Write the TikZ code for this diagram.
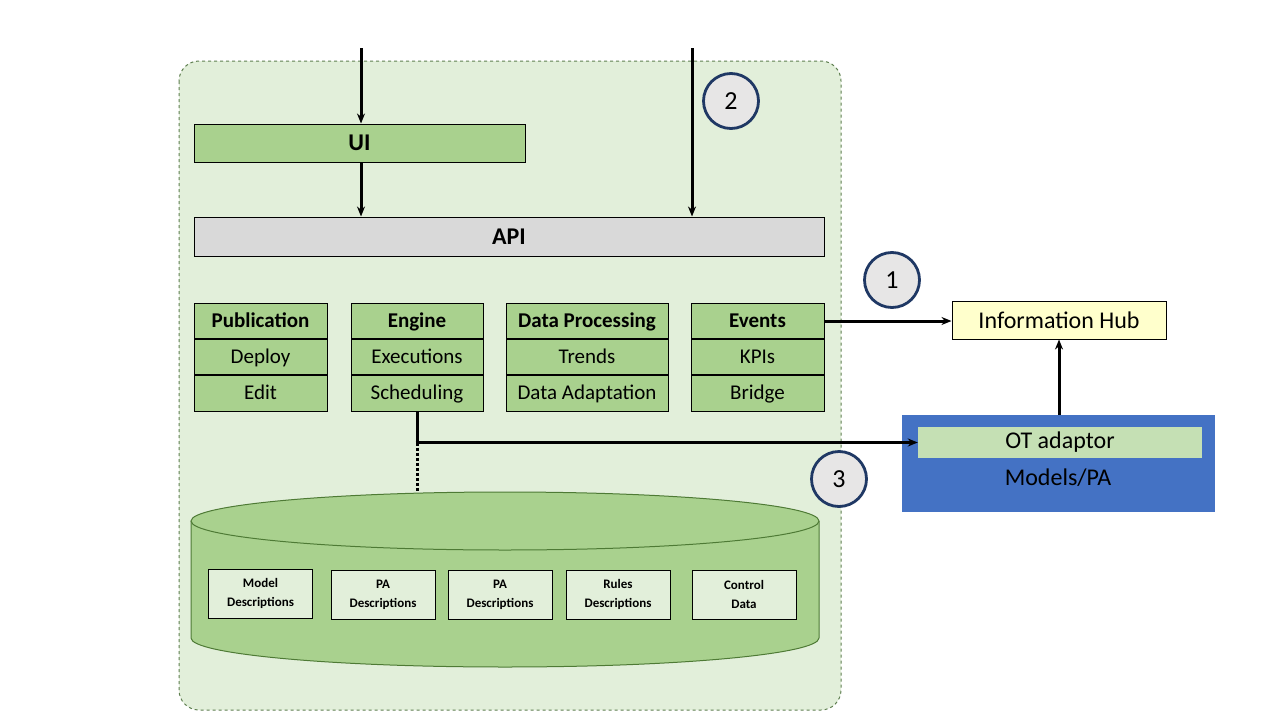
\documentclass[tikz,border=0pt]{standalone}
\usepackage{fontspec}
\setmainfont{Carlito}
\usetikzlibrary{arrows.meta,positioning}
\definecolor{panelgreen}{HTML}{E2EFDA}
\definecolor{panelline}{HTML}{5F7F50}
\definecolor{boxgreen}{HTML}{A9D18E}
\definecolor{apigray}{HTML}{D9D9D9}
\definecolor{badgefill}{HTML}{E7E6E6}
\definecolor{badgeline}{HTML}{1F3864}
\definecolor{hubyellow}{HTML}{FFFFCC}
\definecolor{modelblue}{HTML}{4472C4}
\definecolor{adaptorgreen}{HTML}{C5E0B4}
\definecolor{dbline}{HTML}{4E7A35}
\tikzset{
  bar/.style={draw=black, line width=1pt, font=\bfseries\fontsize{24}{26}\selectfont, inner sep=0pt},
  cell/.style={draw=black, line width=1pt, fill=boxgreen, minimum height=35.3pt, inner sep=0pt,
    text height=15pt, text depth=3pt, font=\fontsize{21}{23}\selectfont},
  headcell/.style={cell, font=\bfseries\fontsize{21}{23}\selectfont},
  badge/.style={circle, draw=badgeline, line width=2.8pt, fill=badgefill, minimum size=55pt, inner sep=0pt,
    font=\fontsize{26}{28}\selectfont},
  store/.style={draw=black, line width=1pt, fill=panelgreen, minimum width=104pt, minimum height=49pt,
    inner sep=0pt, align=center, font=\bfseries\fontsize{13}{19}\selectfont},
  flow/.style={line width=3pt, -{Stealth[length=10pt,width=8pt]}},
  link/.style={line width=3pt},
}
\begin{document}
\begin{tikzpicture}[x=1pt,y=-1pt]
\useasboundingbox[fill=white] (0,0) rectangle (1280,720);

% platform panel
\draw[panelline, dashed, line width=1pt, fill=panelgreen, rounded corners=20pt] (179,61) rectangle (841,710);

% UI and API layers
\node[bar, fill=boxgreen, minimum width=331pt, minimum height=38pt] (ui) at (359.5,143) {UI};
\node[bar, fill=apigray, minimum width=630pt, minimum height=39pt] (api) at (509,236.5) {API};

% component stacks
\node[headcell, minimum width=133pt] (pub1) at (260.5,321) {Publication};
\node[cell, minimum width=133pt, below=0pt of pub1] (pub2) {Deploy};
\node[cell, minimum width=133pt, below=0pt of pub2] (pub3) {Edit};

\node[headcell, minimum width=132pt] (eng1) at (417,321) {Engine};
\node[cell, minimum width=132pt, below=0pt of eng1] (eng2) {Executions};
\node[cell, minimum width=132pt, below=0pt of eng2] (eng3) {Scheduling};

\node[headcell, minimum width=162pt] (dp1) at (587,321) {Data Processing};
\node[cell, minimum width=162pt, below=0pt of dp1] (dp2) {Trends};
\node[cell, minimum width=162pt, below=0pt of dp2] (dp3) {Data Adaptation};

\node[headcell, minimum width=133pt] (ev1) at (757.5,321) {Events};
\node[cell, minimum width=133pt, below=0pt of ev1] (ev2) {KPIs};
\node[cell, minimum width=133pt, below=0pt of ev2] (ev3) {Bridge};

% external systems
\node[draw=black, line width=1pt, fill=hubyellow, minimum width=214pt, minimum height=38pt, inner sep=0pt,
  font=\fontsize{24}{26}\selectfont] (hub) at (1059,320) {Information Hub};
\node[fill=modelblue, minimum width=313pt, minimum height=97pt, inner sep=0pt] (models) at (1058.5,463.5) {};
\node[fill=adaptorgreen, minimum width=284pt, minimum height=31pt, inner sep=0pt,
  font=\fontsize{24}{26}\selectfont] (ota) at (1060,442.5) {OT adaptor};
\node[font=\fontsize{24}{26}\selectfont, text=black] (mpa) at (1058,478) {Models/PA};

% data store cylinder
\filldraw[dbline, fill=boxgreen, line width=1pt]
  (191,521) -- (191,638) arc[start angle=180, end angle=0, x radius=314, y radius=29] -- (819,521);
\filldraw[dbline, fill=boxgreen, line width=1pt] (505,521) ellipse[x radius=314, y radius=29];
\coordinate (dbtop) at (417,492);

\node[store] (s1) at (260.5,593.5) {Model\\Descriptions};
\node[store] (s2) at (383,594.5) {PA\\Descriptions};
\node[store] (s3) at (500,594.5) {PA\\Descriptions};
\node[store] (s4) at (618,594.5) {Rules\\Descriptions};
\node[store] (s5) at (744,594.5) {Control\\Data};

% numbered badges
\node[badge] (b2) at (731,101) {2};
\node[badge] (b1) at (892,280) {1};
\node[badge] (b3) at (839,479) {3};

% connectors
\coordinate (uiin) at (361,48);
\coordinate (apiin) at (692,48);
\draw[flow] (uiin) -- (uiin |- ui.north);
\draw[flow] (uiin |- ui.south) -- (uiin |- api.north);
\draw[flow] (apiin) -- (apiin |- api.north);
\draw[flow] (ev1.east) -- (hub.west |- ev1.east);
\draw[flow] (hub.south |- models.north) -- (hub.south);
\coordinate (bend) at (eng3.south |- ota.west);
\draw[link] (eng3.south) -- ([yshift=1.5pt]bend);
\draw[flow] ([xshift=-1.5pt]bend) -- (ota.west);
\draw[line width=3pt, dotted] (bend) -- (dbtop);
\end{tikzpicture}
\end{document}
